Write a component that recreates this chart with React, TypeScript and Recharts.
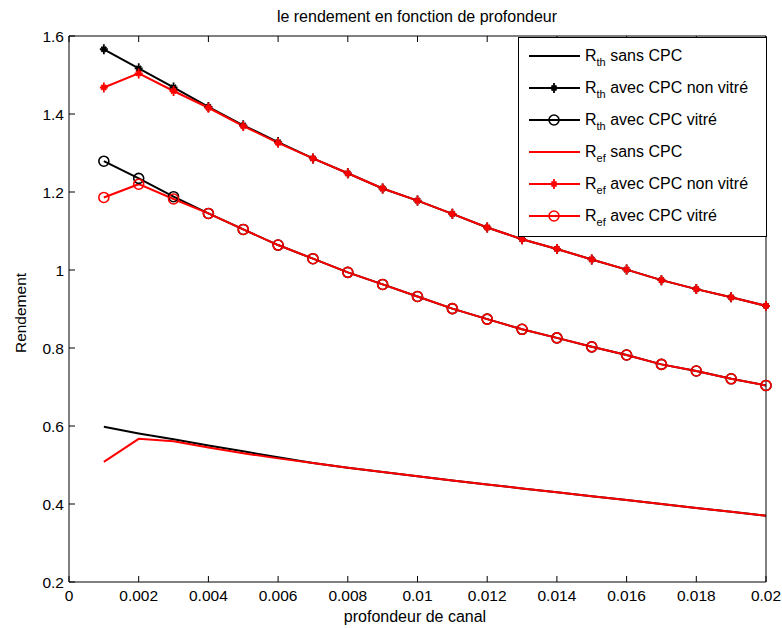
import React from 'react';
import { LineChart, Line, XAxis, YAxis } from 'recharts';

// profondeur de canal (m)
const depth = [
  0.001, 0.002, 0.003, 0.004, 0.005, 0.006, 0.007, 0.008, 0.009, 0.01,
  0.011, 0.012, 0.013, 0.014, 0.015, 0.016, 0.017, 0.018, 0.019, 0.02,
];

const rthSans = [0.598, 0.581, 0.566, 0.550, 0.535, 0.520, 0.505, 0.493, 0.482, 0.471, 0.460, 0.450, 0.440, 0.430, 0.420, 0.410, 0.400, 0.390, 0.380, 0.370];
const rthNonVitre = [1.566, 1.517, 1.468, 1.418, 1.371, 1.328, 1.286, 1.248, 1.209, 1.178, 1.144, 1.109, 1.079, 1.054, 1.027, 1.001, 0.974, 0.951, 0.930, 0.908];
const rthVitre = [1.279, 1.235, 1.188, 1.145, 1.104, 1.064, 1.029, 0.994, 0.963, 0.932, 0.901, 0.874, 0.848, 0.826, 0.803, 0.782, 0.758, 0.741, 0.721, 0.704];

const refSans = [0.508, 0.567, 0.561, 0.545, 0.530, 0.517, 0.505, 0.493, 0.482, 0.471, 0.460, 0.450, 0.440, 0.430, 0.420, 0.410, 0.400, 0.390, 0.380, 0.370];
const refNonVitre = [1.468, 1.504, 1.459, 1.416, 1.369, 1.326, 1.286, 1.248, 1.209, 1.178, 1.144, 1.109, 1.079, 1.054, 1.027, 1.001, 0.974, 0.951, 0.930, 0.908];
const refVitre = [1.186, 1.220, 1.182, 1.145, 1.104, 1.064, 1.029, 0.994, 0.963, 0.932, 0.901, 0.874, 0.848, 0.826, 0.803, 0.782, 0.758, 0.741, 0.721, 0.704];

const xTicks = [0, 0.002, 0.004, 0.006, 0.008, 0.01, 0.012, 0.014, 0.016, 0.018, 0.02];
const yTicks = [0.2, 0.4, 0.6, 0.8, 1, 1.2, 1.4, 1.6];

const data = depth.map((d, i) => ({
  d,
  rthSans: rthSans[i],
  rthNonVitre: rthNonVitre[i],
  rthVitre: rthVitre[i],
  refSans: refSans[i],
  refNonVitre: refNonVitre[i],
  refVitre: refVitre[i],
}));

const legendItems = [
  { sub: 'th', text: 'sans CPC', color: '#000', marker: 'none' },
  { sub: 'th', text: 'avec CPC non vitré', color: '#000', marker: 'star' },
  { sub: 'th', text: 'avec CPC vitré', color: '#000', marker: 'circle' },
  { sub: 'ef', text: 'sans CPC', color: '#ff0000', marker: 'none' },
  { sub: 'ef', text: 'avec CPC non vitré', color: '#ff0000', marker: 'star' },
  { sub: 'ef', text: 'avec CPC vitré', color: '#ff0000', marker: 'circle' },
];

const FONT = '"Liberation Sans", Arial, sans-serif';
const fmt = (v: number) => String(Number(v.toFixed(4)));

const StarMark = ({ x, y, color }: { x: number; y: number; color: string }) => (
  <path
    d={`M${x},${y - 5}L${x},${y + 5}M${x - 4},${y}L${x + 4},${y}M${x - 2.5},${y - 2.5}L${x + 2.5},${y + 2.5}M${x - 2.5},${y + 2.5}L${x + 2.5},${y - 2.5}`}
    stroke={color}
    strokeWidth={1.8}
    fill="none"
  />
);

const starDot = (color: string) => (props: any) => (
  <StarMark key={`s-${props.index}`} x={props.cx} y={props.cy} color={color} />
);

const circleDot = (color: string) => (props: any) => (
  <circle key={`c-${props.index}`} cx={props.cx} cy={props.cy} r={5} stroke={color} strokeWidth={1.6} fill="none" />
);

const BottomTick = ({ x, y, payload }: any) => (
  <g>
    <line x1={x} y1={y} x2={x} y2={y - 6} stroke="#000" />
    <text x={x} y={y + 19} textAnchor="middle" fontFamily={FONT} fontSize={15.5} fill="#000">
      {fmt(payload.value)}
    </text>
  </g>
);

const TopTick = ({ x, y }: any) => <line x1={x} y1={y} x2={x} y2={y + 6} stroke="#000" />;

const LeftTick = ({ x, y, payload }: any) => (
  <g>
    <line x1={x} y1={y} x2={x + 6} y2={y} stroke="#000" />
    <text x={x - 5} y={y + 6} textAnchor="end" fontFamily={FONT} fontSize={15.5} fill="#000">
      {fmt(payload.value)}
    </text>
  </g>
);

const RightTick = ({ x, y }: any) => <line x1={x} y1={y} x2={x - 6} y2={y} stroke="#000" />;

function LegendBox() {
  return (
    <div
      style={{
        position: 'absolute',
        left: 518,
        top: 37,
        width: 247,
        height: 198,
        border: '1px solid #000',
        background: '#fff',
      }}
    >
      <svg width={247} height={198}>
        {legendItems.map((item, i) => {
          const cy = 18 + i * 32;
          return (
            <g key={i}>
              <line x1={10} y1={cy} x2={61} y2={cy} stroke={item.color} strokeWidth={2} />
              {item.marker === 'star' && <StarMark x={35} y={cy} color={item.color} />}
              {item.marker === 'circle' && (
                <circle cx={35} cy={cy} r={5} stroke={item.color} strokeWidth={1.6} fill="none" />
              )}
              <text x={66} y={cy + 5} fontFamily={FONT} fontSize={16} fill="#000">
                R
                <tspan fontSize={11} dy={5}>{item.sub}</tspan>
                <tspan dy={-5}> {item.text}</tspan>
              </text>
            </g>
          );
        })}
      </svg>
    </div>
  );
}

export default function App() {
  return (
    <div style={{ position: 'absolute', left: 0, top: 0, width: 782, height: 628, background: '#fff' }}>
      <LineChart
        width={782}
        height={628}
        data={data}
        margin={{ top: 30, right: 10, bottom: 16, left: 39 }}
      >
        <XAxis
          xAxisId="b"
          dataKey="d"
          type="number"
          domain={[0, 0.02]}
          ticks={xTicks}
          height={30}
          tickSize={0}
          tickMargin={0}
          tickLine={false}
          tick={<BottomTick />}
          axisLine={{ stroke: '#000' }}
          interval={0}
        />
        <XAxis
          xAxisId="t"
          dataKey="d"
          type="number"
          orientation="top"
          domain={[0, 0.02]}
          ticks={xTicks}
          height={6}
          tickSize={0}
          tickMargin={0}
          tickLine={false}
          tick={<TopTick />}
          axisLine={{ stroke: '#000' }}
          interval={0}
        />
        <YAxis
          yAxisId="l"
          type="number"
          domain={[0.2, 1.6]}
          ticks={yTicks}
          width={30}
          tickSize={0}
          tickMargin={0}
          tickLine={false}
          tick={<LeftTick />}
          axisLine={{ stroke: '#000' }}
          interval={0}
        />
        <YAxis
          yAxisId="r"
          type="number"
          orientation="right"
          domain={[0.2, 1.6]}
          ticks={yTicks}
          width={6}
          tickSize={0}
          tickMargin={0}
          tickLine={false}
          tick={<RightTick />}
          axisLine={{ stroke: '#000' }}
          interval={0}
        />
        <Line xAxisId="b" yAxisId="l" dataKey="rthSans" stroke="#000" strokeWidth={2} dot={false} isAnimationActive={false} />
        <Line xAxisId="b" yAxisId="l" dataKey="rthNonVitre" stroke="#000" strokeWidth={2} dot={starDot('#000')} isAnimationActive={false} />
        <Line xAxisId="b" yAxisId="l" dataKey="rthVitre" stroke="#000" strokeWidth={2} dot={circleDot('#000')} isAnimationActive={false} />
        <Line xAxisId="b" yAxisId="l" dataKey="refSans" stroke="#ff0000" strokeWidth={2} dot={false} isAnimationActive={false} />
        <Line xAxisId="b" yAxisId="l" dataKey="refNonVitre" stroke="#ff0000" strokeWidth={2} dot={starDot('#ff0000')} isAnimationActive={false} />
        <Line xAxisId="b" yAxisId="l" dataKey="refVitre" stroke="#ff0000" strokeWidth={2} dot={circleDot('#ff0000')} isAnimationActive={false} />
      </LineChart>
      <svg width={782} height={628} style={{ position: 'absolute', left: 0, top: 0, pointerEvents: 'none' }}>
        <text x={417} y={22} textAnchor="middle" fontFamily={FONT} fontSize={16} fill="#000">
          le rendement en fonction de profondeur
        </text>
        <text x={415} y={622} textAnchor="middle" fontFamily={FONT} fontSize={16} fill="#000">
          profondeur de canal
        </text>
        <text x={26} y={313} textAnchor="middle" transform="rotate(-90 26 313)" fontFamily={FONT} fontSize={15.5} fill="#000">
          Rendement
        </text>
      </svg>
      <LegendBox />
    </div>
  );
}
